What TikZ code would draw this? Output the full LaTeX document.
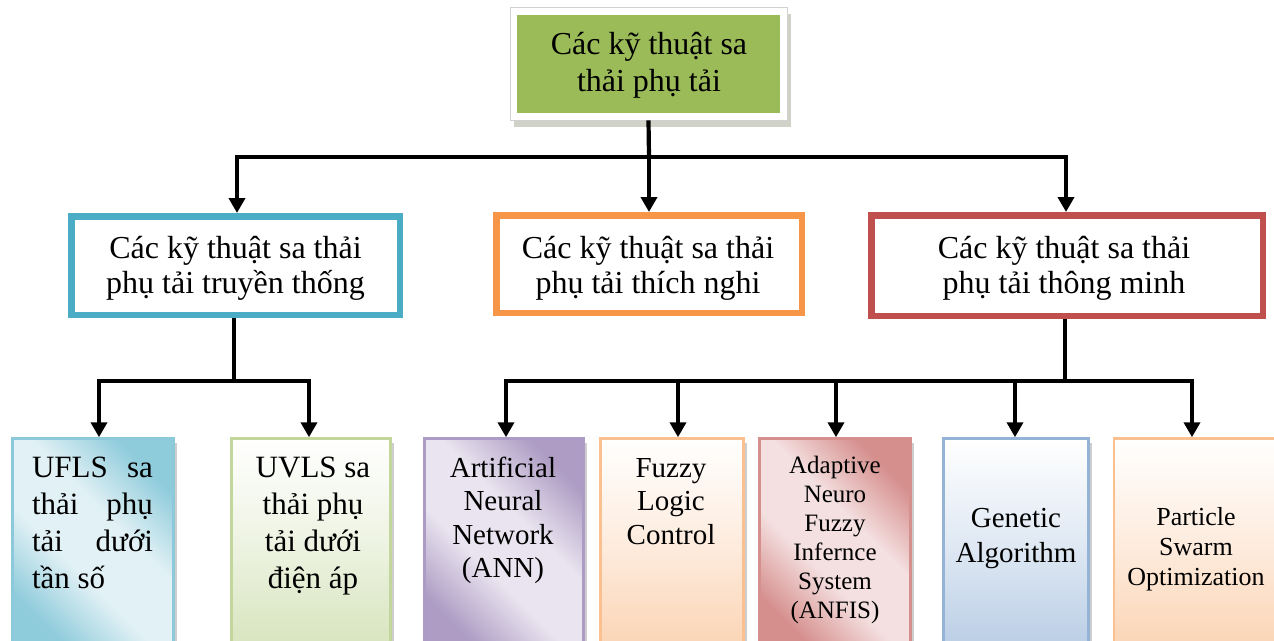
\documentclass[tikz,border=0pt]{standalone}
\usepackage{fontspec}
\setmainfont{Liberation Serif}
\usetikzlibrary{arrows.meta,shadows}

\definecolor{leafgreen}{HTML}{9BBB59}
\definecolor{oliveshade}{HTML}{A4A690}
\definecolor{tealedge}{HTML}{4BACC6}
\definecolor{orangeedge}{HTML}{F79646}
\definecolor{rededge}{HTML}{C0504D}
\definecolor{aquadark}{HTML}{8ECBDB}
\definecolor{aqualight}{HTML}{E2F1F5}
\definecolor{aquaedge}{HTML}{8CCADB}
\definecolor{limeedge}{HTML}{C3D69B}
\definecolor{limefill}{HTML}{D7E4BD}
\definecolor{violetdark}{HTML}{AE9CC4}
\definecolor{violetlight}{HTML}{E9E4EF}
\definecolor{violetedge}{HTML}{AC9BC4}
\definecolor{peachedge}{HTML}{FAC090}
\definecolor{peachfill}{HTML}{FBD4B4}
\definecolor{rosedark}{HTML}{D58F8D}
\definecolor{roselight}{HTML}{F4E0E0}
\definecolor{roseedge}{HTML}{D58F8D}
\definecolor{skyedge}{HTML}{95B3D7}
\definecolor{skyfill}{HTML}{B9CDE5}

% diagonal two-sided fades: dark at both ends, a broad light band between
\pgfdeclareverticalshading{aquadiag}{100bp}{color(0bp)=(aquadark); color(25bp)=(aquadark);
  color(42bp)=(aqualight); color(58bp)=(aqualight); color(75bp)=(aquadark); color(100bp)=(aquadark)}
\pgfdeclareverticalshading{violetdiag}{100bp}{color(0bp)=(violetdark); color(25bp)=(violetdark);
  color(42bp)=(violetlight); color(58bp)=(violetlight); color(75bp)=(violetdark); color(100bp)=(violetdark)}
\pgfdeclareverticalshading{rosediag}{100bp}{color(0bp)=(rosedark); color(25bp)=(rosedark);
  color(42bp)=(roselight); color(58bp)=(roselight); color(75bp)=(rosedark); color(100bp)=(rosedark)}

\begin{document}
\begin{tikzpicture}[x=1pt,y=-1pt,
  wire/.style={line width=4.2pt,black},
  arr/.style={wire,-{Triangle[width=16pt,length=15pt]}},
  lbl/.style={inner sep=0pt,anchor=base,text=black},
  midbox/.style={draw=#1,line width=6.5pt,fill=white,inner sep=0pt},
  leafbox/.style={line width=2.5pt,inner sep=0pt,minimum height=211.5pt,
    drop shadow={shadow xshift=3pt,shadow yshift=-4pt,fill=black!38}},
  diagbox/.style 2 args={leafbox,draw=#1,shade,shading=#2,shading angle=-45},
  fadebox/.style 2 args={leafbox,draw=#1,top color=white,bottom color=#2,
    middle color=#2!45!white},
]
\clip (0,0) rectangle (1274,640);
\fill[white] (0,0) rectangle (1274,640);

% root
\node[draw=black!18,line width=0.8pt,fill=white,inner sep=0pt,
  minimum width=277pt,minimum height=113pt,
  drop shadow={shadow xshift=4pt,shadow yshift=-7pt,fill=oliveshade}]
  (topframe) at (648.5,63.5) {};
\node[fill=leafgreen,inner sep=0pt,minimum width=263pt,minimum height=98pt]
  (top) at (topframe.center) {};
\node[lbl,font=\fontsize{32}{37}\selectfont] (toptext) at (649,54)
  {\parbox[t]{260pt}{\centering Các kỹ thuật sa\\thải phụ tải}};

% second level
\node[midbox=tealedge,minimum width=328.5pt,minimum height=98.5pt]
  (trad) at (235.5,265.5) {};
\node[midbox=orangeedge,minimum width=305.5pt,minimum height=97.5pt]
  (adapt) at (649,264) {};
\node[midbox=rededge,minimum width=391.5pt,minimum height=100.5pt]
  (smart) at (1067,265.5) {};

\node[lbl,font=\fontsize{32}{35}\selectfont] (tradtext) at (235.5,258)
  {\parbox[t]{320pt}{\centering Các kỹ thuật sa thải\\phụ tải truyền thống}};
\node[lbl,font=\fontsize{32}{35}\selectfont] (adapttext) at (648,258)
  {\parbox[t]{300pt}{\centering Các kỹ thuật sa thải\\phụ tải thích nghi}};
\node[lbl,font=\fontsize{32}{35}\selectfont] (smarttext) at (1064,258)
  {\parbox[t]{380pt}{\centering Các kỹ thuật sa thải\\phụ tải thông minh}};

% leaves
\node[diagbox={aquaedge}{aquadiag},minimum width=161pt]
  (ufls) at (93,544.25) {};
\node[fadebox={limeedge}{limefill},minimum width=159pt]
  (uvls) at (311,544.25) {};
\node[diagbox={violetedge}{violetdiag},minimum width=159pt]
  (ann) at (504,544.25) {};
\node[fadebox={peachedge}{peachfill},minimum width=143pt]
  (flc) at (672,544.25) {};
\node[diagbox={roseedge}{rosediag},minimum width=151pt]
  (anfis) at (835,544.25) {};
\node[fadebox={skyedge}{skyfill},minimum width=145pt]
  (ga) at (1016,544.25) {};
\node[fadebox={peachedge}{peachfill},minimum width=184pt]
  (pso) at (1206,544.25) {};

\node[lbl,font=\fontsize{31}{37}\selectfont] (uflstext) at (92.5,477)
  {\parbox[t]{121pt}{UFLS\hfill sa\\thải\hfill phụ\\tải\hfill dưới\\tần số}};
\node[lbl,font=\fontsize{31}{37}\selectfont] (uvlstext) at (313,477)
  {\parbox[t]{150pt}{\centering UVLS sa\\thải phụ\\tải dưới\\điện áp}};
\node[lbl,font=\fontsize{29}{33.5}\selectfont] (anntext) at (503,477)
  {\parbox[t]{150pt}{\centering Artificial\\Neural\\Network\\(ANN)}};
\node[lbl,font=\fontsize{29}{33.5}\selectfont] (flctext) at (671,477)
  {\parbox[t]{140pt}{\centering Fuzzy\\Logic\\Control}};
\node[lbl,font=\fontsize{25}{29}\selectfont] (anfistext) at (835,473)
  {\parbox[t]{145pt}{\centering Adaptive\\Neuro\\Fuzzy\\Infernce\\System\\(ANFIS)}};
\node[lbl,font=\fontsize{29}{35}\selectfont] (gatext) at (1016,527)
  {\parbox[t]{140pt}{\centering Genetic\\Algorithm}};
\node[lbl,font=\fontsize{26}{30}\selectfont] (psotext) at (1196,525)
  {\parbox[t]{160pt}{\centering Particle\\Swarm\\Optimization}};

% connectors, root to second level
\coordinate (jt) at (649,157);
\coordinate (jl) at (237,157);
\coordinate (jr) at (1066,157);
\draw[wire] (topframe.south) -- (jt);
\draw[arr] (jt) -- (jl) -- (jl |- trad.north);
\draw[arr] (jt) -- (jr) -- (jr |- smart.north);
\draw[arr] (jt) -- (jt |- adapt.north);

% traditional branch
\coordinate (jb) at (234,381);
\coordinate (b1) at (99,381);
\coordinate (b2) at (309,381);
\draw[wire] (jb |- trad.south) -- (jb);
\draw[arr] (jb) -- (b1) -- (b1 |- ufls.north);
\draw[arr] (jb) -- (b2) -- (b2 |- uvls.north);

% intelligent branch
\coordinate (jc) at (1065,381);
\coordinate (c1) at (506,381);
\coordinate (c2) at (678,381);
\coordinate (c3) at (836,381);
\coordinate (c4) at (1015,381);
\coordinate (c5) at (1192,381);
\draw[wire] (jc |- smart.south) -- (jc);
\draw[arr] (jc) -- (c1) -- (c1 |- ann.north);
\draw[arr] (c2) -- (c2 |- flc.north);
\draw[arr] (c3) -- (c3 |- anfis.north);
\draw[arr] (c4) -- (c4 |- ga.north);
\draw[arr] (jc) -- (c5) -- (c5 |- pso.north);
\end{tikzpicture}
\end{document}
